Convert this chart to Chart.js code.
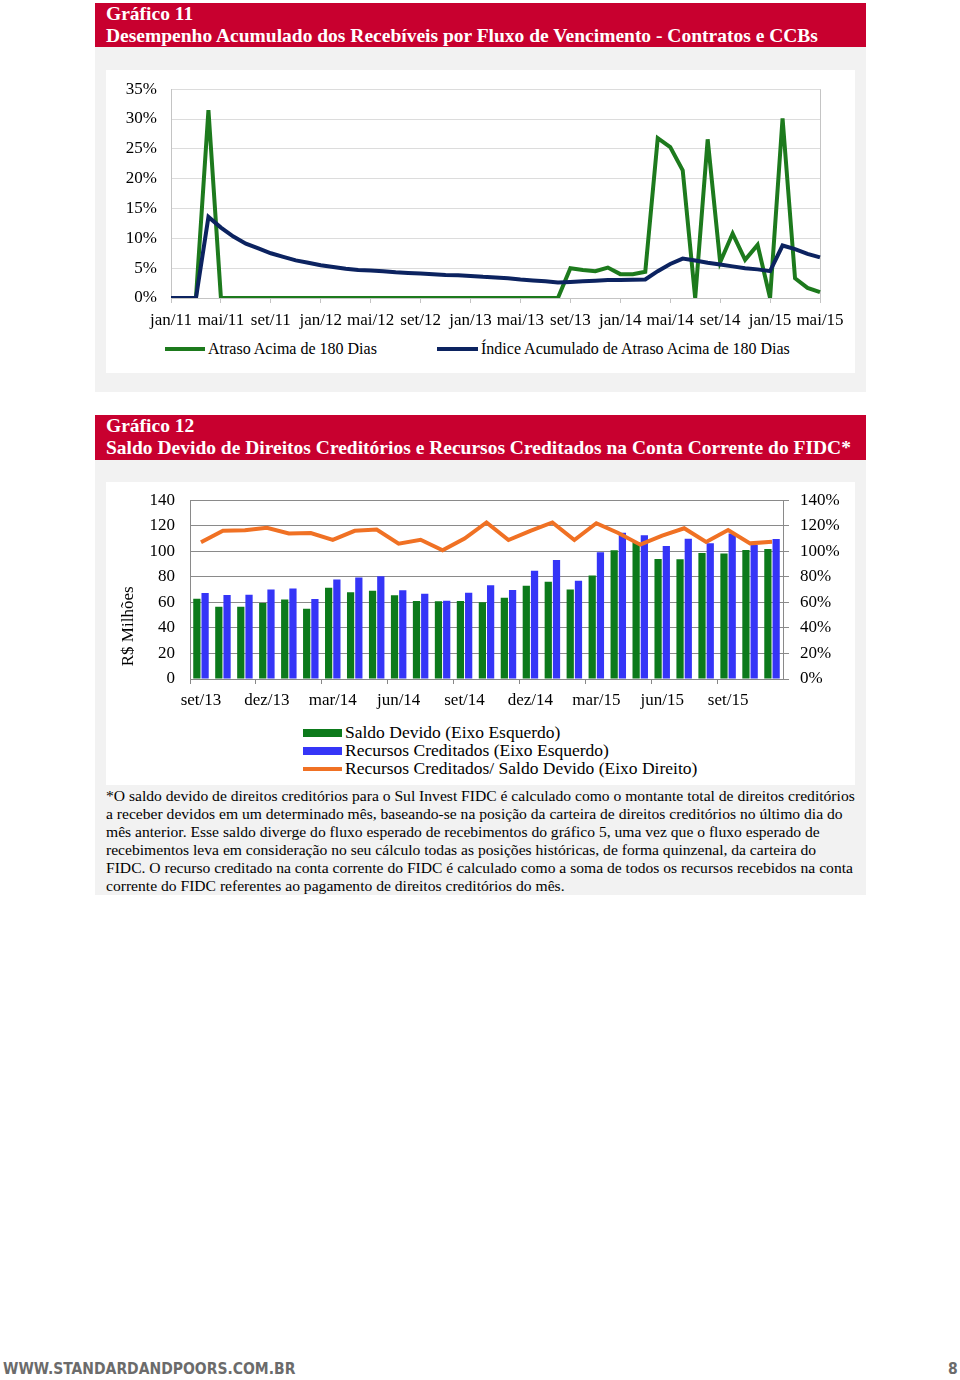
<!DOCTYPE html>
<html>
<head>
<meta charset="utf-8">
<script src="https://cdn.jsdelivr.net/npm/chart.js@4.4.1/dist/chart.umd.min.js"></script>
<style>
  body { margin: 0; width: 960px; height: 1380px; background: #fff; position: relative; font-family: "Liberation Serif", "Times New Roman", serif; }
  .hdr { position: absolute; left: 95px; width: 760px; padding-left: 11px; background: #c8002f; color: #fff; font-weight: bold; font-size: 19.5px; line-height: 22px; white-space: nowrap; }
  .panel { position: absolute; left: 95px; width: 771px; background: #f2f2f2; }
  .white { position: absolute; left: 106px; width: 749px; background: #fff; }
  .white canvas { position: absolute; left: 0; }
  .leg { position: absolute; font-size: 16px; line-height: 18px; white-space: nowrap; color: #000; }
  .leg i { display: inline-block; vertical-align: middle; margin-right: 3px; position: relative; top: -1px; }
  .note { position: absolute; left: 106px; top: 787px; font-size: 15.6px; line-height: 18px; white-space: nowrap; color: #000; }
  .foot { position: absolute; top: 1360px; font-family: "Liberation Sans Narrow", "DejaVu Sans Condensed", sans-serif; font-weight: bold; font-size: 15.5px; color: #6b6b6b; line-height: 18px; }
</style>
</head>
<body>

<div class="hdr" style="top:3px;height:44px;">Gráfico 11<br>Desempenho Acumulado dos Recebíveis por Fluxo de Vencimento - Contratos e CCBs</div>
<div class="panel" style="top:47px;height:345px;"></div>
<div class="white" style="top:70px;height:303px;">
  <canvas id="chart1" width="749" height="270" style="top:-5px;"></canvas>
  <div class="leg" style="left:59px;top:270px;"><i style="width:40px;height:4px;background:#1d7a1d;"></i>Atraso Acima de 180 Dias</div>
  <div class="leg" style="left:331px;top:270px;"><i style="width:41px;height:4px;background:#0c2360;"></i>Índice Acumulado de Atraso Acima de 180 Dias</div>
</div>

<div class="hdr" style="top:415px;height:45px;">Gráfico 12<br>Saldo Devido de Direitos Creditórios e Recursos Creditados na Conta Corrente do FIDC*</div>
<div class="panel" style="top:460px;height:435px;"></div>
<div class="white" style="top:482px;height:303px;">
  <canvas id="chart2" width="749" height="239" style="top:-7px;"></canvas>
  <div class="leg" style="left:197px;top:241px;font-size:17.5px;">
    <div><i style="width:39px;height:8px;background:#0c7a1b;"></i>Saldo Devido (Eixo Esquerdo)</div>
    <div><i style="width:39px;height:8px;background:#3535f7;"></i>Recursos Creditados (Eixo Esquerdo)</div>
    <div><i style="width:39px;height:4px;background:#f07124;"></i>Recursos Creditados/ Saldo Devido (Eixo Direito)</div>
  </div>
</div>
<div class="note">*O saldo devido de direitos creditórios para o Sul Invest FIDC é calculado como o montante total de direitos creditórios<br>a receber devidos em um determinado mês, baseando-se na posição da carteira de direitos creditórios no último dia do<br>mês anterior. Esse saldo diverge do fluxo esperado de recebimentos do gráfico 5, uma vez que o fluxo esperado de<br>recebimentos leva em consideração no seu cálculo todas as posições históricas, de forma quinzenal, da carteira do<br>FIDC. O recurso creditado na conta corrente do FIDC é calculado como a soma de todos os recursos recebidos na conta<br>corrente do FIDC referentes ao pagamento de direitos creditórios do mês.</div>

<div class="foot" style="left:3px;">WWW.STANDARDANDPOORS.COM.BR</div>
<div class="foot" style="left:948px;">8</div>

<script>
// Gráfico 11 - meses jan/11 a mai/15
const months1 = [
  'jan/11','fev/11','mar/11','abr/11','mai/11','jun/11','jul/11','ago/11','set/11','out/11','nov/11','dez/11',
  'jan/12','fev/12','mar/12','abr/12','mai/12','jun/12','jul/12','ago/12','set/12','out/12','nov/12','dez/12',
  'jan/13','fev/13','mar/13','abr/13','mai/13','jun/13','jul/13','ago/13','set/13','out/13','nov/13','dez/13',
  'jan/14','fev/14','mar/14','abr/14','mai/14','jun/14','jul/14','ago/14','set/14','out/14','nov/14','dez/14',
  'jan/15','fev/15','mar/15','abr/15','mai/15'
];
// Atraso Acima de 180 Dias (%)
const atraso = [
  0, 0, 0, 31.5, 0, 0, 0, 0, 0, 0, 0, 0,
  0, 0, 0, 0, 0, 0, 0, 0, 0, 0, 0, 0,
  0, 0, 0, 0, 0, 0, 0, 0, 5.0, 4.7, 4.5, 5.1,
  4.0, 4.0, 4.4, 26.8, 25.3, 21.4, 0, 26.6, 6.0, 10.8, 6.4, 8.9,
  0, 30.1, 3.3, 1.7, 1.0
];
// Índice Acumulado de Atraso Acima de 180 Dias (%)
const indice = [
  0, 0, 0, 13.6, 11.8, 10.3, 9.1, 8.3, 7.5, 6.9, 6.3, 5.9,
  5.5, 5.2, 4.9, 4.7, 4.6, 4.5, 4.3, 4.2, 4.1, 4.0, 3.85, 3.8,
  3.7, 3.55, 3.45, 3.3, 3.1, 2.95, 2.8, 2.6, 2.7, 2.8, 2.9, 3.0,
  3.0, 3.05, 3.1, 4.5, 5.7, 6.6, 6.3, 5.9, 5.6, 5.3, 5.0, 4.8,
  4.5, 8.8, 8.2, 7.4, 6.8
];

// Gráfico 12 - meses set/13 a nov/15
const months2 = [
  'set/13','out/13','nov/13','dez/13','jan/14','fev/14','mar/14','abr/14','mai/14',
  'jun/14','jul/14','ago/14','set/14','out/14','nov/14','dez/14','jan/15','fev/15',
  'mar/15','abr/15','mai/15','jun/15','jul/15','ago/15','set/15','out/15','nov/15'
];
// Saldo Devido (R$ milhões)
const saldo = [
  62.9, 56.6, 56.6, 59.5, 62.3, 55.0, 71.4, 68.0, 69.1,
  65.5, 61.0, 60.8, 61.0, 60.0, 63.6, 73.0, 76.1, 70.1,
  81.0, 100.8, 107.0, 94.0, 93.8, 98.7, 98.2, 101.0, 101.8
];
// Recursos Creditados (R$ milhões)
const recursos = [
  67.3, 65.7, 66.0, 70.1, 70.9, 62.6, 77.9, 79.5, 80.5,
  69.4, 66.8, 61.3, 67.5, 73.5, 69.6, 84.7, 93.2, 76.9,
  99.2, 114.5, 112.5, 104.2, 109.9, 106.2, 114.0, 105.0, 109.6
];
// Recursos Creditados / Saldo Devido (%)
const razao = [
  107.0, 116.0, 116.4, 118.4, 114.0, 114.3, 109.0, 116.0, 117.0,
  106.0, 109.0, 100.8, 110.0, 122.6, 108.8, 116.0, 122.6, 108.8,
  122.0, 114.3, 105.2, 112.2, 118.0, 107.3, 116.6, 106.2, 107.5
];

Chart.defaults.font.family = '"Liberation Serif", "Times New Roman", serif';
Chart.defaults.color = '#000';
const axisFont = { size: 17 };

new Chart(document.getElementById('chart1'), {
  type: 'line',
  data: {
    labels: months1,
    datasets: [
      {
        label: 'Atraso Acima de 180 Dias',
        data: atraso,
        borderColor: '#1d7a1d',
        borderWidth: 4,
        pointRadius: 0,
        tension: 0,
        order: 1
      },
      {
        label: 'Índice Acumulado de Atraso Acima de 180 Dias',
        data: indice,
        borderColor: '#0c2360',
        borderWidth: 4,
        pointRadius: 0,
        tension: 0,
        order: 0
      }
    ]
  },
  options: {
    responsive: false,
    animation: false,
    layout: { padding: { top: 14, right: 35, left: 0, bottom: 0 } },
    plugins: { legend: { display: false }, tooltip: { enabled: false } },
    scales: {
      x: {
        grid: {
          color: (c) => c.index === months1.length - 1 ? '#c4c4c4' : 'rgba(0,0,0,0)',
          tickColor: (c) => c.index % 4 === 0 ? '#c4c4c4' : 'rgba(0,0,0,0)',
          tickLength: 5
        },
        border: { color: '#c4c4c4' },
        ticks: {
          autoSkip: false,
          maxRotation: 0,
          font: axisFont,
          padding: 7,
          callback: (v, i) => i % 4 === 0 ? months1[i] : ''
        },
        afterFit: (s) => { s.height = 37; }
      },
      y: {
        min: 0,
        max: 35,
        ticks: { stepSize: 5, font: axisFont, padding: 14, callback: (v) => v + '%' },
        grid: { color: '#dcdcdc', drawTicks: false },
        border: { color: '#c4c4c4' },
        afterFit: (s) => { s.width = 65; }
      }
    }
  }
});

new Chart(document.getElementById('chart2'), {
  type: 'bar',
  data: {
    labels: months2,
    datasets: [
      {
        type: 'line',
        label: 'Recursos Creditados/ Saldo Devido (Eixo Direito)',
        data: razao,
        yAxisID: 'y1',
        borderColor: '#f07124',
        borderWidth: 4,
        pointRadius: 0,
        tension: 0,
        order: 0
      },
      {
        label: 'Saldo Devido (Eixo Esquerdo)',
        data: saldo,
        yAxisID: 'y',
        backgroundColor: '#0c7a1b',
        categoryPercentage: 0.75,
        barPercentage: 0.88,
        order: 1
      },
      {
        label: 'Recursos Creditados (Eixo Esquerdo)',
        data: recursos,
        yAxisID: 'y',
        backgroundColor: '#3535f7',
        categoryPercentage: 0.75,
        barPercentage: 0.88,
        order: 1
      }
    ]
  },
  options: {
    responsive: false,
    animation: false,
    layout: { padding: { top: 10, right: 0, left: 0, bottom: 0 } },
    plugins: { legend: { display: false }, tooltip: { enabled: false } },
    scales: {
      x: {
        grid: {
          drawOnChartArea: false,
          tickColor: (c) => c.index % 3 === 0 ? '#888' : 'rgba(0,0,0,0)',
          tickLength: 5
        },
        border: { color: '#888' },
        ticks: {
          autoSkip: false,
          maxRotation: 0,
          font: axisFont,
          padding: 6,
          callback: (v, i) => i % 3 === 0 ? months2[i] : ''
        },
        afterFit: (s) => { s.height = 35; }
      },
      y: {
        position: 'left',
        min: 0,
        max: 140,
        ticks: { stepSize: 20, font: axisFont, padding: 15 },
        grid: { color: '#8a8a8a', drawTicks: false },
        border: { color: '#8a8a8a' },
        title: {
          display: true,
          text: '   R$ Milhões',
          font: axisFont,
          align: 'start',
          padding: { top: 12, bottom: 0 }
        },
        afterFit: (s) => { s.width = 84; }
      },
      y1: {
        position: 'right',
        min: 0,
        max: 140,
        ticks: { stepSize: 20, font: axisFont, padding: 11, callback: (v) => v + '%' },
        grid: { drawOnChartArea: false, color: '#8a8a8a', tickLength: 6 },
        border: { color: '#8a8a8a' },
        afterFit: (s) => { s.width = 72; }
      }
    }
  }
});
</script>
</body>
</html>
